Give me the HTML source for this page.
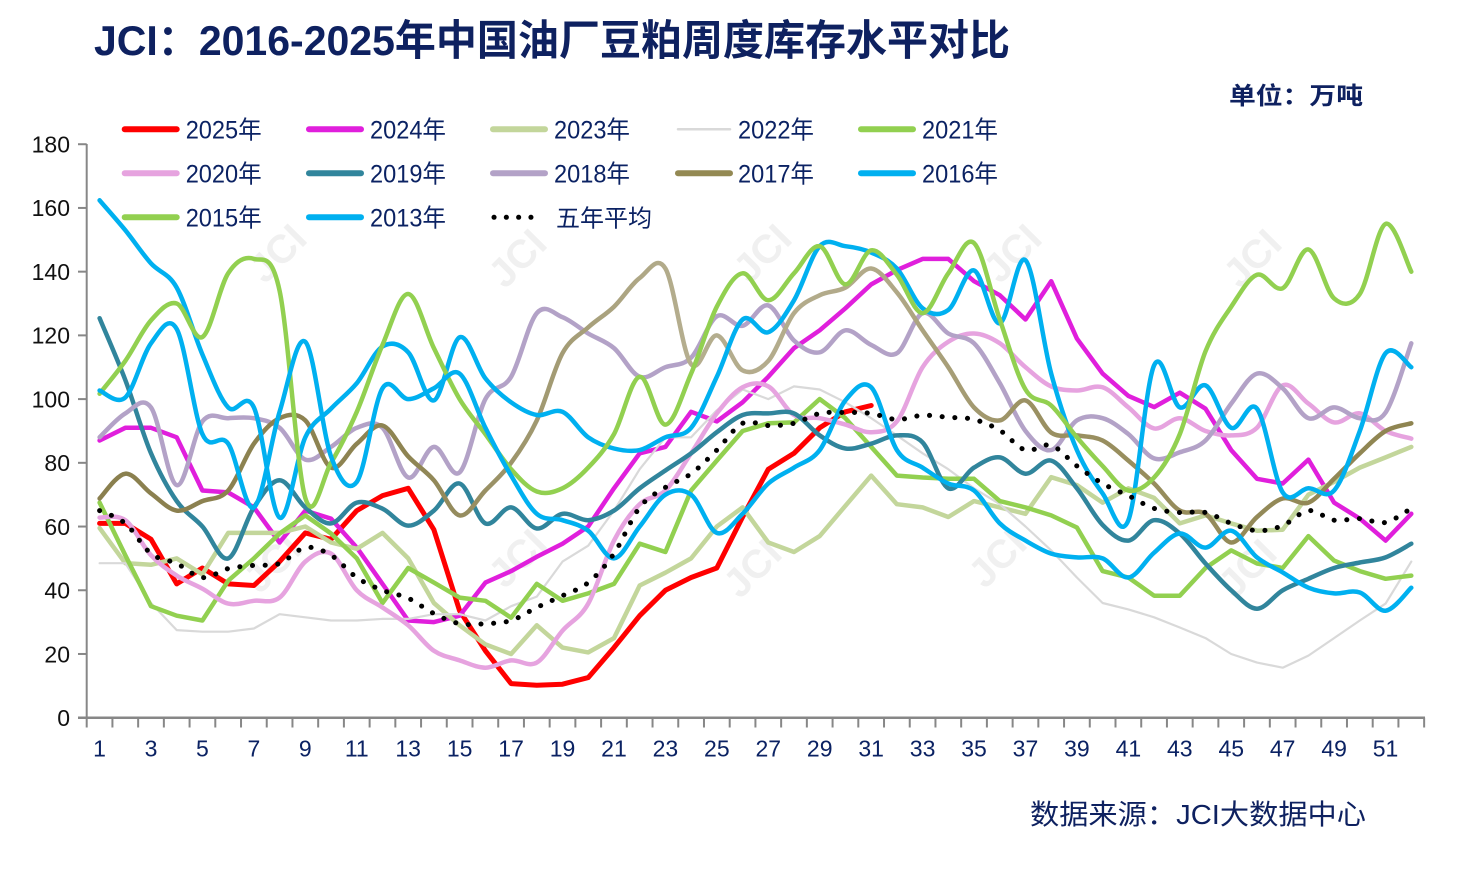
<!DOCTYPE html>
<html><head><meta charset="utf-8">
<style>
html,body{margin:0;padding:0;background:#fff;}
svg{display:block;}
</style></head>
<body>
<svg id="c" width="1462" height="871" viewBox="0 0 1462 871" xmlns="http://www.w3.org/2000/svg">
<defs>
<linearGradient id="olv" gradientUnits="userSpaceOnUse" x1="86" y1="0" x2="1424" y2="0">
 <stop offset="0" stop-color="#8A7F4E"/>
 <stop offset="0.24" stop-color="#8E8452"/>
 <stop offset="0.34" stop-color="#A19971"/>
 <stop offset="0.45" stop-color="#B5AE8F"/>
 <stop offset="0.6" stop-color="#B1A988"/>
 <stop offset="0.7" stop-color="#9B9163"/>
 <stop offset="1" stop-color="#8E8450"/>
</linearGradient>
</defs>
<rect width="1462" height="871" fill="#fff"/>

<g font-family="'Liberation Sans','Noto Sans CJK SC',sans-serif" font-weight="bold" font-size="40" fill="#f0f0f0">
 <text transform="translate(265,285) rotate(-45)">JCI</text>
 <text transform="translate(505,290) rotate(-45)">JCI</text>
 <text transform="translate(750,285) rotate(-45)">JCI</text>
 <text transform="translate(1000,285) rotate(-45)">JCI</text>
 <text transform="translate(1240,290) rotate(-45)">JCI</text>
 <text transform="translate(260,595) rotate(-45)">JCI</text>
 <text transform="translate(505,590) rotate(-45)">JCI</text>
 <text transform="translate(740,600) rotate(-45)">JCI</text>
 <text transform="translate(985,590) rotate(-45)">JCI</text>
 <text transform="translate(1235,600) rotate(-45)">JCI</text>
</g>

<text x="94" y="55" font-family="'Liberation Sans','Noto Sans CJK SC',sans-serif" font-weight="bold" font-size="42" fill="#0E2160" textLength="916" lengthAdjust="spacingAndGlyphs">JCI：2016-2025年中国油厂豆粕周度库存水平对比</text>
<text x="1229" y="104" font-family="'Liberation Sans','Noto Sans CJK SC',sans-serif" font-weight="bold" font-size="24" fill="#0E2160" textLength="134" lengthAdjust="spacingAndGlyphs">单位：万吨</text>
<text x="1030" y="824" font-family="'Liberation Sans','Noto Sans CJK SC',sans-serif" font-size="28" fill="#0E2160" textLength="336" lengthAdjust="spacingAndGlyphs">数据来源：JCI大数据中心</text>

<g id="axes"></g>
<g id="series" fill="none" stroke-linejoin="round" stroke-linecap="round"></g>
<g id="legend"></g>
</svg>
<script>
(function(){
var NS="http://www.w3.org/2000/svg";
var X0=86.7, DX=25.72, Y0=717.7, KY=3.186;
function px(i){return X0+(i+0.5)*DX;}
function py(v){return Y0-v*KY;}
function f(n){return n.toFixed(1);}
function el(tag,attrs,parent,txt){var e=document.createElementNS(NS,tag);for(var k in attrs)e.setAttribute(k,attrs[k]);if(txt!==undefined)e.textContent=txt;parent.appendChild(e);return e;}
function pathStraight(d){var s='';for(var i=0;i<d.length;i++){s+=(i?'L':'M')+f(px(i))+' '+f(py(d[i]));}return s;}
function pathSmooth(d){
 var p=d.map(function(v,i){return [px(i),py(v)];});
 var s='M'+f(p[0][0])+' '+f(p[0][1]);
 for(var i=0;i<p.length-1;i++){
  var p0=p[i-1]||p[i],p1=p[i],p2=p[i+1],p3=p[i+2]||p[i+1];
  var c1=[p1[0]+(p2[0]-p0[0])/6,p1[1]+(p2[1]-p0[1])/6];
  var c2=[p2[0]-(p3[0]-p1[0])/6,p2[1]-(p3[1]-p1[1])/6];
  s+='C'+f(c1[0])+' '+f(c1[1])+' '+f(c2[0])+' '+f(c2[1])+' '+f(p2[0])+' '+f(p2[1]);
 }
 return s;
}
var axes=document.getElementById('axes');
var FONT="'Liberation Sans','Noto Sans CJK SC',sans-serif";
el('line',{x1:86.7,y1:144,x2:86.7,y2:Y0,stroke:'#878787','stroke-width':2},axes);
for(var v=0;v<=180;v+=20){
 var y=py(v);
 el('line',{x1:78,y1:y,x2:86.7,y2:y,stroke:'#878787','stroke-width':2},axes);
 el('text',{x:70,y:y+8.3,'text-anchor':'end','font-family':FONT,'font-size':23,fill:'#111'},axes,String(v));
}
el('line',{x1:78,y1:Y0,x2:1425,y2:Y0,stroke:'#878787','stroke-width':2.5},axes);
for(var k=0;k<=52;k++){
 var x=X0+k*DX;
 el('line',{x1:x,y1:Y0,x2:x,y2:727.5,stroke:'#878787','stroke-width':2},axes);
}
for(var w=1;w<=51;w+=2){
 el('text',{x:px(w-1),y:756.5,'text-anchor':'middle','font-family':FONT,'font-size':23,fill:'#0B2263'},axes,String(w));
}

var S=[
 {c:'#FF0000',w:5,sm:0,d:[61,61,56,42,47,42,41.5,49,58,56,65,69.7,72,59,33.6,21,10.7,10.2,10.5,12.6,22,32,40,44,47,63,78,83,91,96,98]},
 {c:'#E01FDC',w:4.5,sm:0,d:[87,91,91,88,71.3,70.7,66,55,65,62.5,53.4,42,30.5,30,32,42.4,46,50.5,54.6,60,72,83,85,96,93,99,107,116,121.6,128.5,136,140.5,144,144,137,132.6,125,137,119,108,101,97.5,102,97,84,75,73.5,81,67.5,62.5,55.6,64]},
 {c:'#C3D69B',w:4.5,sm:0,d:[59.5,48.5,48,50,45,58,58,58,60,55,53,58,50,36,29,23,20,29,22,20.5,25,41.5,45.5,50,60,66,55,52,57,66.5,76,67,66,63,68,66,64,75.5,73,67.5,72,69,61,63.5,61,58.7,59,70,74,78.5,81.7,85]},
 {c:'#D9D9D9',w:2.2,sm:0,d:[48.5,48.5,36,27.5,27,27,28,32.5,31.5,30.5,30.5,31,31,32.5,32.5,30.5,35,38,49,54,65,78,88,88,96.5,103,100,104,103,99,94,88.6,83,78,72,67,60,52.5,44,36,34,31.5,28.3,25,20,17.3,15.7,19.5,25,30.5,35.8,49]},
 {c:'#92D050',w:4.5,sm:0,d:[67.5,51,35,32,30.5,43,50,57.8,63.5,57.8,50,36,47,42.4,37.7,36.7,31.4,42,36.7,39,42,54.6,52,71.3,80.7,90,92.4,92.7,100,94,85,76,75.4,75,75,68,66,63.5,59.7,46,44,38.3,38.3,47,52.5,48.4,47,57,49.3,46,43.6,44.6]},
 {c:'#E6A3DF',w:4.5,sm:1,d:[62.8,62,51,44.6,40.5,35.8,36.7,37.7,49,51.5,40,34.6,29,21,18,15.7,18,17.3,27.3,35.8,55.6,67,71.3,83,95.5,103.7,104,95,94,92,89.6,93,110,118,120.6,117.5,110,104,102.7,103.7,97.4,90.8,94,90,88.6,91,104.3,98.6,92.7,95.5,90,87.6]},
 {c:'#31859C',w:4.5,sm:1,d:[125.4,106,83,68,60,50,66,74.5,66,61,67.5,65.6,60.3,65,73.5,61,66,59.4,64,62,65,72,77.6,83,89.6,95,95.5,95.5,88.6,84.5,86,88.6,86.4,72,78.5,81.7,76.6,80.7,72,60.5,55.6,62,57.8,48.4,40,34.2,40,43.6,47,48.7,50.3,54.6]},
 {c:'#B3A2C7',w:4.5,sm:1,d:[88,95.5,97.4,73,93,94,94,91,81,85,91,91,75.4,85,77,100,107,127,125.7,120.6,116,107,110,113,126,123,129.4,118.4,114.7,121.6,117,114.4,127,120.6,117.5,105,90,84,93.3,94,89,81.4,83.3,87,98.6,108,103.4,94,97.4,94,95.8,117.5]},
 {c:'url(#olv)',w:4.5,sm:1,d:[68.8,76.6,70.4,65,68,71.3,86,94,93.3,78.5,86,91.7,82,74.5,63.5,71.3,80,93.3,114.4,122.5,129,138,141,111,120,109,112,127,132.6,135,141,133.5,121.6,110,97.4,93.3,99.6,89.5,88.6,87,80.7,73.5,65,64,55,63,68.8,67.5,75,83,90,92.4]},
 {c:'#00B0F0',w:4.5,sm:1,d:[162.4,153,142.6,135,114,97.4,97.4,62.8,88,97,105,116.5,114.7,99.6,119.4,106.5,99,95,96,88,84.5,84,88,91,107,125,121,131,148,148,146,141,128.5,128,140.4,123.8,143.6,108,84,70.4,62,110.6,97.4,104.3,91,97,70.7,72,71.3,90,114.4,110]},
 {c:'#92D050',w:4.5,sm:1,d:[101.7,112,124.7,130,119.5,139.5,144,134,69,80,96,117,133,116,100,89,78,71,72,78.5,89,107,92,108,129,139.5,131,139.5,148,136,146.7,139,127,139.5,149,125,103,98,88,79,71.3,75.4,89,115,129,139,134.8,147,131.6,133,155,140]},
 {c:'#00B0F0',w:4.5,sm:1,d:[102.7,100.5,117.5,122,89,86,66,96,118,82,74,103.4,100,103.4,108,91,76,64,62,58.7,50,60,70,70,58,64,73.5,78.5,84,99.6,103.7,84,78.5,73.5,71.3,61,55.6,51.5,50.3,50,44,51.8,57.8,53.4,58.7,50.3,45.6,40.8,39,39.3,33.6,40.8]},
 {c:'#000000',w:5,sm:1,dash:'0.1 12.6',d:[65,61,51.5,48.4,44,46.8,47.8,48.4,53.4,51,44,40,37.5,32.7,29.5,29.5,30.5,34.6,38.3,42.4,51.5,66,72.3,76.6,84,92.4,91.7,92.4,95.5,95.8,95.5,93.6,94.9,94.3,93.6,90.2,84,85.5,79,73.5,69.7,65.7,64.4,64.4,61,58.7,60.3,65,62,62.5,61.3,65.7]}
];
var g=document.getElementById('series');
S.forEach(function(s){
 var a={d:s.sm?pathSmooth(s.d):pathStraight(s.d),stroke:s.c,'stroke-width':s.w};
 if(s.dash){a['stroke-dasharray']=s.dash;}
 el('path',a,g);
});

var lg=document.getElementById('legend');
var sx=[121.7,306,490,675,858], tx=[185.7,370,554,738,922], ry=[129.3,173.3,217.3];
var L=[
 [0,0,'#FF0000','2025年',6],[0,1,'#E01FDC','2024年',6],[0,2,'#C3D69B','2023年',6],[0,3,'#D9D9D9','2022年',2.5],[0,4,'#92D050','2021年',6],
 [1,0,'#E6A3DF','2020年',6],[1,1,'#31859C','2019年',6],[1,2,'#B3A2C7','2018年',6],[1,3,'#938953','2017年',6],[1,4,'#00B0F0','2016年',6],
 [2,0,'#92D050','2015年',6],[2,1,'#00B0F0','2013年',6]
];
L.forEach(function(e){
 var y=ry[e[0]], x=sx[e[1]];
 el('line',{x1:x+3,y1:y,x2:x+55,y2:y,stroke:e[2],'stroke-width':e[4],'stroke-linecap':'round'},lg);
 el('text',{x:tx[e[1]],y:y+9,'font-family':FONT,'font-size':25,fill:'#0B2263',textLength:76,lengthAdjust:'spacingAndGlyphs'},lg,e[3]);
});
el('line',{x1:494,y1:217.3,x2:543,y2:217.3,stroke:'#000','stroke-width':5,'stroke-linecap':'round','stroke-dasharray':'0.1 12.2'},lg);
el('text',{x:556,y:217.3+9,'font-family':FONT,'font-size':24,fill:'#0B2263',textLength:96,lengthAdjust:'spacingAndGlyphs'},lg,'五年平均');
})();
</script>
</body></html>
